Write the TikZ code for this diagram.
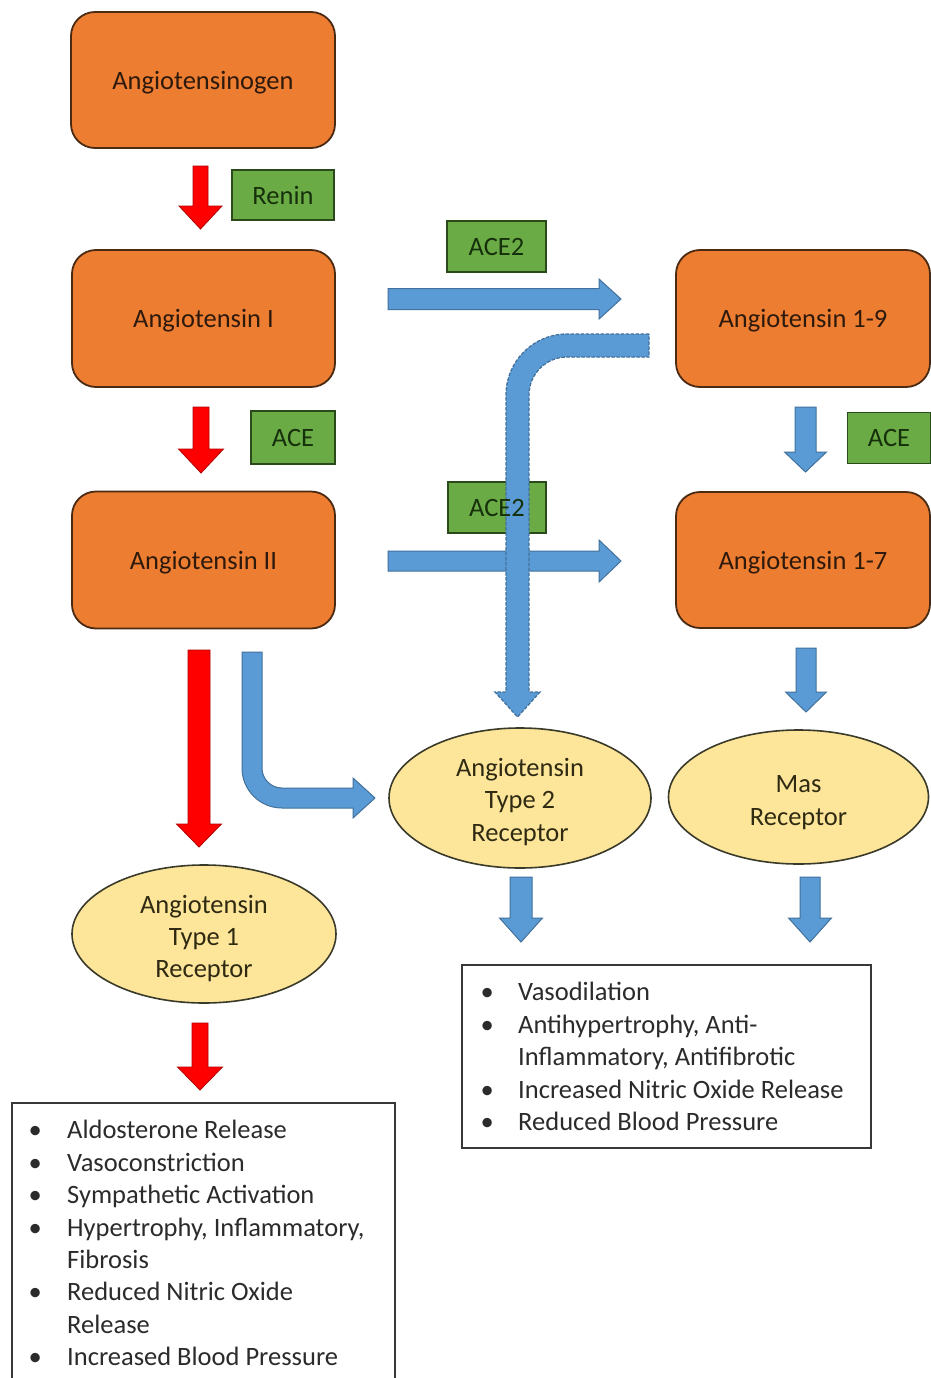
\documentclass[tikz,border=0pt]{standalone}
\usepackage{fontspec}
\setmainfont{Carlito}
\usepackage{array}
\usetikzlibrary{shapes.geometric,calc}
\definecolor{orng}{HTML}{ED7D31}
\definecolor{obrd}{HTML}{4A2A12}
\definecolor{otxt}{HTML}{2E1A0C}
\definecolor{grn}{HTML}{6AAB45}
\definecolor{gbrd}{HTML}{2B4A1C}
\definecolor{gtxt}{HTML}{17300C}
\definecolor{yel}{HTML}{FDE59A}
\definecolor{ybrd}{HTML}{3A3A2A}
\definecolor{ytxt}{HTML}{2F2A12}
\definecolor{bfill}{HTML}{5B9BD5}
\definecolor{bbrd}{HTML}{41719C}
\definecolor{rfill}{HTML}{FF0000}
\definecolor{rbrd}{HTML}{B00000}
\definecolor{ltxt}{HTML}{2B2B2B}
\definecolor{lbrd}{HTML}{383838}
% block arrow pointing down between two named coordinates
\newcommand\DownBlock[6]{%
  \filldraw[#1] let \p1=(#2), \p2=(#3) in
    ({\x1-#4pt},\y1) -- ({\x1-#4pt},{\y2+#6pt}) -- ({\x1-#5pt},{\y2+#6pt}) -- (\x2,\y2)
    -- ({\x1+#5pt},{\y2+#6pt}) -- ({\x1+#4pt},{\y2+#6pt}) -- ({\x1+#4pt},\y1) -- cycle;}
% block arrow pointing right between two named coordinates
\newcommand\RightBlock[6]{%
  \filldraw[#1] let \p1=(#2), \p2=(#3) in
    (\x1,{\y1+#4pt}) -- ({\x2-#6pt},{\y1+#4pt}) -- ({\x2-#6pt},{\y1+#5pt}) -- (\x2,\y2)
    -- ({\x2-#6pt},{\y1-#5pt}) -- ({\x2-#6pt},{\y1-#4pt}) -- (\x1,{\y1-#4pt}) -- cycle;}
\newcommand\lowered[2]{\raisebox{-#1pt}[\height][\depth]{#2}}
\begin{document}
\begin{tikzpicture}[x=1pt,y=-1pt,
  font=\fontsize{26.5}{32.4}\selectfont,
  obox/.style={draw=obrd, fill=orng, rounded corners=24pt, line width=1.8pt,
    minimum width=263pt, minimum height=137pt, text=otxt, inner sep=0pt},
  gbox/.style={draw=gbrd, fill=grn, line width=1.6pt, text=gtxt, inner sep=0pt},
  gtext/.style={text=gtxt, inner sep=0pt},
  ell/.style={ellipse, draw=ybrd, fill=yel, line width=1.6pt, text=ytxt,
    align=center, inner sep=0pt},
  lbox/.style={draw=lbrd, line width=2pt, fill=white, inner sep=0pt},
  ltext/.style={text=ltxt, inner sep=0pt, anchor=north west},
  redarr/.style={fill=rfill, draw=rbrd, line width=0.8pt},
  bluearr/.style={fill=bfill, draw=bbrd, line width=1pt},
  dasharr/.style={fill=bfill, draw=bbrd, line width=1.3pt, dash pattern=on 3.5pt off 1.5pt}
]
\useasboundingbox (0,0) rectangle (931,1378);
\fill[white] (0,0) rectangle (931,1378);

% orange peptide boxes
\node[obox, minimum width=264pt, minimum height=136pt] (agen) at (203,80) {\lowered{2.5}{Angiotensinogen}};
\node[obox] (ang1) at (203.5,318.5) {\lowered{2.5}{Angiotensin I}};
\node[obox] (ang2) at (203.5,560) {\lowered{2.5}{Angiotensin II}};
\node[obox, minimum width=254pt] (a19) at (803,318.5) {\lowered{2.5}{Angiotensin 1-9}};
\node[obox, minimum width=254pt, minimum height=136pt] (a17) at (803,560) {\lowered{2.5}{Angiotensin 1-7}};

% enzyme boxes
\node[gbox, minimum width=102pt, minimum height=50pt] (renin) at (283,195) {Renin};
\node[gbox, minimum width=84pt, minimum height=53pt] (aceL) at (293,437.5) {ACE};
\node[gbox, minimum width=99pt, minimum height=51pt] (ace2t) at (496.5,246.5) {ACE2};
\node[gbox, minimum width=83pt, minimum height=51pt] (aceR) at (889,438) {ACE};

% receptors
\node[ell, minimum width=262pt, minimum height=140pt] (at2) at (520,798) {\lowered{4.5}{\begin{tabular}{@{}c@{}}Angiotensin\\Type 2\\Receptor\end{tabular}}};
\node[ell, minimum width=260pt, minimum height=134pt] (mas) at (798.5,797) {\lowered{5.5}{\begin{tabular}{@{}c@{}}Mas\\Receptor\end{tabular}}};
\node[ell, minimum width=264pt, minimum height=138pt] (at1) at (204,934) {\lowered{5}{\begin{tabular}{@{}c@{}}Angiotensin\\Type 1\\Receptor\end{tabular}}};

% arrow end coordinates
\coordinate (r1a) at (200.5,166); \coordinate (r1b) at (200.5,229);
\coordinate (r2a) at (201,407);   \coordinate (r2b) at (201,473);
\coordinate (r3a) at (199,650);   \coordinate (r3b) at (199,847);
\coordinate (r4a) at (200,1023);  \coordinate (r4b) at (200,1090);
\coordinate (h1a) at (388,299);   \coordinate (h1b) at (621,299);
\coordinate (h2a) at (388,561);   \coordinate (h2b) at (621,561);
\coordinate (d1a) at (805.5,407); \coordinate (d1b) at (805.5,472);
\coordinate (d2a) at (806,648);   \coordinate (d2b) at (806,712);
\coordinate (d3a) at (521,877);   \coordinate (d3b) at (521,942);
\coordinate (d4a) at (810,877);   \coordinate (d4b) at (810,942);

% red arrows
\DownBlock{redarr}{r1a}{r1b}{7.5}{21.5}{23}
\DownBlock{redarr}{r2a}{r2b}{8}{22.5}{24}
\DownBlock{redarr}{r3a}{r3b}{11}{22.5}{23}
\DownBlock{redarr}{r4a}{r4b}{8}{22.5}{23}

% blue straight arrows
\RightBlock{bluearr}{h1a}{h1b}{10.5}{20}{22}
\RightBlock{bluearr}{h2a}{h2b}{10}{21}{22}
\DownBlock{bluearr}{d1a}{d1b}{10.5}{21}{20}
\DownBlock{bluearr}{d2a}{d2b}{10}{20.5}{20}
\DownBlock{bluearr}{d3a}{d3b}{11}{21.5}{24}
\DownBlock{bluearr}{d4a}{d4b}{10}{21.5}{24}

% bent arrow Angiotensin II -> AT2 receptor
\filldraw[bluearr] (242,652) -- (242,768) arc[start angle=180,end angle=90,radius=40]
  -- (353,808) -- (353,818) -- (375,798) -- (353,778) -- (353,788) -- (282,788)
  arc[start angle=90,end angle=180,radius=20] -- (262,652) -- cycle;

% lower ACE2 box, drawn under the dashed arrow
\node[gbox, minimum width=98pt, minimum height=51pt] (ace2b) at (497,507.5) {\phantom{ACE2}};

% dashed bent arrow Angiotensin 1-9 -> AT2 receptor
\filldraw[dasharr] (649,334) -- (567,334) arc[start angle=270,end angle=180,radius=61]
  -- (506,692) -- (495,692) -- (517.5,717) -- (540,692) -- (529,692) -- (529,395)
  arc[start angle=180,end angle=270,radius=38] -- (649,357) -- cycle;
\node[gtext] (ace2blabel) at (ace2b.center) {ACE2};

% effect boxes
\node[lbox, minimum width=409pt, minimum height=183pt] (rbox) at (666.5,1056.5) {};
\node[ltext] (rlist) at (474,978) {\begin{tabular}{@{}w{c}{26pt}@{\hspace{18pt}}l@{}}
\textbullet & Vasodilation\\
\textbullet & Antihypertrophy, Anti-\\
 & Inflammatory, Antifibrotic\\
\textbullet & Increased Nitric Oxide Release\\
\textbullet & Reduced Blood Pressure
\end{tabular}};

\node[lbox, minimum width=383pt, minimum height=300pt] (lbx) at (203.5,1253) {};
\node[ltext] (llist) at (22,1116) {\begin{tabular}{@{}w{c}{26pt}@{\hspace{19pt}}l@{}}
\textbullet & Aldosterone Release\\
\textbullet & Vasoconstriction\\
\textbullet & Sympathetic Activation\\
\textbullet & Hypertrophy, Inflammatory,\\
 & Fibrosis\\
\textbullet & Reduced Nitric Oxide\\
 & Release\\
\textbullet & Increased Blood Pressure
\end{tabular}};
\end{tikzpicture}
\end{document}
